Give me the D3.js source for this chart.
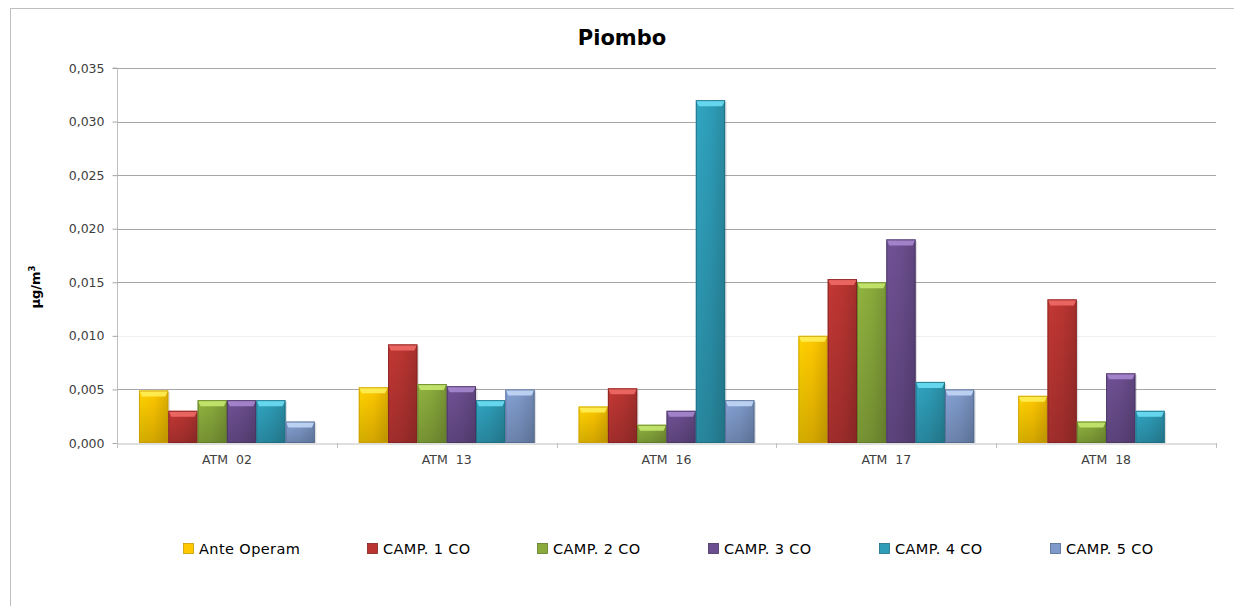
<!DOCTYPE html>
<html>
<head>
<meta charset="utf-8">
<script src="https://cdn.jsdelivr.net/npm/d3@7"></script>
<style>
  html, body { margin: 0; padding: 0; background: #fff; }
  svg { display: block; }
</style>
</head>
<body>
<svg id="chart" width="1234" height="606"></svg>
<script>
const categories = ["ATM  02", "ATM  13", "ATM  16", "ATM  17", "ATM  18"];
const seriesNames = ["Ante Operam", "CAMP. 1 CO", "CAMP. 2 CO", "CAMP. 3 CO", "CAMP. 4 CO", "CAMP. 5 CO"];
const anteOperam = [0.0049, 0.0052, 0.0034, 0.0100, 0.0044];
const camp1 = [0.0030, 0.0092, 0.0051, 0.0153, 0.0134];
const camp2 = [0.0040, 0.0055, 0.0017, 0.0150, 0.0020];
const camp3 = [0.0040, 0.0053, 0.0030, 0.0190, 0.0065];
const camp4 = [0.0040, 0.0040, 0.0320, 0.0057, 0.0030];
const camp5 = [0.0020, 0.0050, 0.0040, 0.0050, null];
const yTicks = [0, 0.005, 0.010, 0.015, 0.020, 0.025, 0.030, 0.035];
const colors = ["#FFC800", "#BA3532", "#8AAB3C", "#6B4E8F", "#2E9DB8", "#7F9ACB"];
const darkColors = ["#C89B00", "#7E2220", "#5E7A26", "#46325F", "#1D6B80", "#52688F"];
const lightColors = ["#FFEE55", "#F06A66", "#C5E870", "#A787CF", "#6BDDF3", "#C2D7F6"];

const seriesValues = [anteOperam, camp1, camp2, camp3, camp4, camp5];

const svg = d3.select("#chart");
const plot = { left: 117, right: 1216, top: 68, bottom: 443 };

// outer frame
svg.append("rect").attr("x", 10.5).attr("y", 8.5).attr("width", 1240).attr("height", 620)
  .attr("fill", "none").attr("stroke", "#BFBFBF").attr("stroke-width", 1);

const defs = svg.append("defs");
colors.forEach((c, i) => {
  const g = defs.append("linearGradient").attr("id", "g" + i).attr("x1", "0").attr("x2", "1").attr("y1", "0").attr("y2", "0");
  g.append("stop").attr("offset", "0").attr("stop-color", d3.color(c).brighter(0.15));
  g.append("stop").attr("offset", "0.5").attr("stop-color", c);
  g.append("stop").attr("offset", "1").attr("stop-color", d3.color(c).darker(0.35));
  const gv = defs.append("linearGradient").attr("id", "gv" + i).attr("x1", "0").attr("x2", "0").attr("y1", "0").attr("y2", "1");
  gv.append("stop").attr("offset", "0").attr("stop-color", "#000").attr("stop-opacity", 0);
  gv.append("stop").attr("offset", "1").attr("stop-color", "#000").attr("stop-opacity", 0.18);
});

const x0 = d3.scaleBand().domain(categories).range([plot.left, plot.right]).padding(0);
const x1 = d3.scaleBand().domain(seriesNames).range([0, x0.bandwidth()]).paddingOuter(0.75).paddingInner(0);
const y = d3.scaleLinear().domain([0, 0.035]).range([plot.bottom, plot.top]);
const fmt = v => d3.format(".3f")(v).replace(".", ",");

// gridlines
svg.append("g").selectAll("line").data(yTicks.filter(t => t > 0)).join("line")
  .attr("x1", plot.left).attr("x2", plot.right)
  .attr("y1", d => Math.round(y(d)) + 0.5).attr("y2", d => Math.round(y(d)) + 0.5)
  .attr("stroke", d => Math.abs(d - 0.010) < 1e-9 ? "#EFEFEF" : "#A6A6A6").attr("stroke-width", 1);

// y axis
const yAxis = d3.axisLeft(y).tickValues(yTicks).tickFormat(fmt).tickSize(5).tickPadding(8);
const yg = svg.append("g").attr("transform", `translate(${plot.left + 0.5},0)`).call(yAxis);
yg.select(".domain").attr("stroke", "#BFBFBF").attr("d", `M-5,${y(0.035)}H0V${y(0)}`);
yg.selectAll(".tick line").attr("stroke", "#A6A6A6");
yg.selectAll(".tick text").attr("fill", "#404040").style("font-family", "DejaVu Sans, Verdana, sans-serif").style("font-size", "12.5px");

// bars
const groups = svg.append("g").selectAll("g").data(categories).join("g")
  .attr("transform", d => `translate(${x0(d)},0)`);
groups.each(function(cat, ci) {
  const g = d3.select(this);
  seriesNames.forEach((s, si) => {
    const v = seriesValues[si][ci];
    if (v == null) return;
    const bx = x1(s), bw = x1.bandwidth();
    const by = y(v), bh = y(0) - y(v);
    const bar = g.append("g");
    bar.append("rect").attr("x", bx + 1.5).attr("y", by + 1.5).attr("width", bw).attr("height", bh - 1.5)
      .attr("fill", "#000").attr("opacity", 0.12);
    bar.append("rect").attr("x", bx).attr("y", by).attr("width", bw).attr("height", bh)
      .attr("fill", `url(#g${si})`);
    bar.append("rect").attr("x", bx).attr("y", by).attr("width", bw).attr("height", bh)
      .attr("fill", `url(#gv${si})`);
    const cap = Math.min(6, bh);
    bar.append("path")
      .attr("d", `M${bx},${by}H${bx + bw}L${bx + bw - 3},${by + cap}H${bx + 3}Z`)
      .attr("fill", lightColors[si]).attr("opacity", 0.9);
    bar.append("rect").attr("x", bx + 0.5).attr("y", by + 0.5).attr("width", bw - 1).attr("height", bh - 1)
      .attr("fill", "none").attr("stroke", darkColors[si]).attr("stroke-width", 1).attr("opacity", 0.8);
  });
});

// x axis
const xAxis = d3.axisBottom(x0).tickSize(0).tickPadding(12);
const xg = svg.append("g").attr("transform", `translate(0,${plot.bottom + 0.5})`).call(xAxis);
xg.select(".domain").attr("stroke", "#BFBFBF");
xg.selectAll(".tick text").attr("fill", "#404040").style("font-family", "DejaVu Sans, Verdana, sans-serif").style("font-size", "12.5px")
  .attr("xml:space", "preserve").style("white-space", "pre");
svg.append("g").selectAll("line").data(categories.concat(["end"])).join("line")
  .attr("x1", (d, i) => Math.round(plot.left + i * x0.bandwidth()) + 0.5)
  .attr("x2", (d, i) => Math.round(plot.left + i * x0.bandwidth()) + 0.5)
  .attr("y1", plot.bottom).attr("y2", plot.bottom + 5)
  .attr("stroke", "#BFBFBF");

// title
svg.append("text").attr("x", 622).attr("y", 45).attr("text-anchor", "middle")
  .style("font-family", "DejaVu Sans, sans-serif").style("font-weight", "bold").style("font-size", "21px")
  .attr("fill", "#000").text("Piombo");

// y label
const yl = svg.append("text").attr("transform", "translate(40,287) rotate(-90)").attr("text-anchor", "middle")
  .style("font-family", "DejaVu Sans, sans-serif").style("font-weight", "bold").style("font-size", "13px").attr("fill", "#000");
yl.append("tspan").text("µg/m");
yl.append("tspan").attr("dy", -5).style("font-size", "8.5px").text("3");

// legend
const legendPos = [183, 367, 537, 708, 879, 1050];
const lg = svg.append("g").selectAll("g").data(seriesNames).join("g")
  .attr("transform", (d, i) => `translate(${legendPos[i]},549)`);
lg.append("rect").attr("x", 0.5).attr("y", -5.5).attr("width", 10).attr("height", 10)
  .attr("fill", (d, i) => colors[i]).attr("stroke", (d, i) => darkColors[i]).attr("stroke-width", 0.8);
lg.append("text").attr("x", 16).attr("y", 0).attr("dy", "0.36em")
  .style("font-family", "DejaVu Sans, Verdana, sans-serif").style("font-size", "14.5px").style("letter-spacing", "0.4px").attr("fill", "#000")
  .text(d => d);
</script>
</body>
</html>
